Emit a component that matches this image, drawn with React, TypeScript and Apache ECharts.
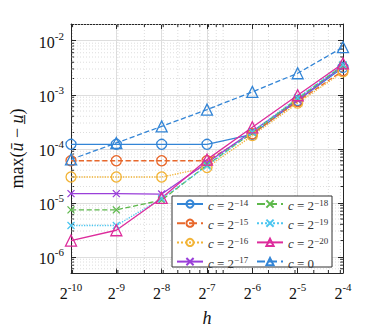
import React, { useEffect, useRef } from 'react';
import * as echarts from 'echarts';

// h = 2^hExp
const hExp = [-10, -9, -8, -7, -6, -5, -4];

const seriesNames = ['c14', 'c15', 'c16', 'c17', 'c18', 'c19', 'c20', 'c0'];
const seriesExps = ['−14', '−15', '−16', '−17', '−18', '−19', '−20', ''];

const c14 = [1.21e-4, 1.21e-4, 1.21e-4, 1.21e-4, 1.85e-4, 7.8e-4, 3.2e-3];
const c15 = [6.0e-5, 6.0e-5, 6.0e-5, 6.0e-5, 1.9e-4, 7.5e-4, 2.8e-3];
const c16 = [3.0e-5, 3.0e-5, 3.0e-5, 4.5e-5, 1.75e-4, 7.0e-4, 2.65e-3];
const c17 = [1.48e-5, 1.48e-5, 1.45e-5, 5.5e-5, 2.1e-4, 8.0e-4, 3.4e-3];
const c18 = [7.4e-6, 7.4e-6, 1.12e-5, 5.0e-5, 2.0e-4, 8.5e-4, 3.5e-3];
const c19 = [3.8e-6, 3.8e-6, 1.2e-5, 4.8e-5, 2.05e-4, 8.8e-4, 3.6e-3];
const c20 = [2.0e-6, 3.1e-6, 1.23e-5, 6.3e-5, 2.5e-4, 9.8e-4, 3.8e-3];
const c0 = [6.35e-5, 1.28e-4, 2.6e-4, 5.3e-4, 1.13e-3, 2.5e-3, 7.6e-3];

const seriesValues = [c14, c15, c16, c17, c18, c19, c20, c0];
const seriesColors = ['#3385D6', '#E8682C', '#F2B437', '#9A3FD9', '#5DB84B', '#4CC6F0', '#DD2C9C', '#3385D6'];
const seriesDash = ['solid', 'dashed', 'dotted', 'solid', 'dashed', 'dotted', 'solid', 'dashed'];
const seriesMarker = ['circle', 'circle', 'circle', 'x', 'x', 'x', 'triangle', 'triangle'];

const X_MIN = -10;
const X_MAX = -4;
const Y_MIN = -6.3;
const Y_MAX = -1.69;

const FONT = 'Liberation Serif';
const AXIS_COLOR = '#262626';

function buildMinor() {
  const out: number[][] = [];
  for (let n = -7; n <= -2; n++) {
    for (let k = 2; k <= 9; k++) {
      const v = Math.log10(k * Math.pow(10, n));
      if (v > Y_MIN && v < Y_MAX) out.push([X_MIN, v, 0]);
    }
  }
  for (let n = -4; n <= -2; n++) {
    for (let k = 1; k <= 9; k++) {
      const v = Math.log2(k * Math.pow(10, n));
      if (v > X_MIN + 0.01 && v < X_MAX - 0.01) out.push([v, Y_MIN, 1]);
    }
  }
  return out;
}

export default function App() {
  const ref = useRef<HTMLDivElement>(null);
  useEffect(() => {
    if (!ref.current) return;
    const chart = echarts.init(ref.current, null, { renderer: 'svg' });

    const symbolFor = (m: string) =>
      m === 'x' ? 'path://M0 0L10 10M10 0L0 10' : m;
    const sizeFor = (m: string) => (m === 'circle' ? 10 : m === 'triangle' ? 11 : 7);

    const lineSeries = seriesNames.map((name, i) => ({
      name,
      type: 'line',
      z: 2,
      data: hExp.map((e, j) => [e, Math.log10(seriesValues[i][j])]),
      symbol: symbolFor(seriesMarker[i]),
      symbolSize: sizeFor(seriesMarker[i]),
      symbolKeepAspect: true,
      showAllSymbol: true,
      color: seriesColors[i],
      lineStyle: { color: seriesColors[i], width: 1.3, type: seriesDash[i] },
      itemStyle: { color: 'rgba(0,0,0,0)', borderColor: seriesColors[i], borderWidth: 1.3 },
    }));

    const minorSeries = {
      type: 'custom',
      z: 1,
      silent: true,
      encode: { x: 0, y: 1 },
      data: buildMinor(),
      renderItem: (params: any, api: any) => {
        const cs = params.coordSys;
        const kind = api.value(2);
        if (kind === 0) {
          const y = api.coord([X_MIN, api.value(1)])[1];
          return {
            type: 'group',
            children: [
              { type: 'line', shape: { x1: cs.x, y1: y, x2: cs.x + cs.width, y2: y }, style: { stroke: '#d4d4d4', lineWidth: 0.8, lineDash: [1, 2] } },
              { type: 'line', shape: { x1: cs.x, y1: y, x2: cs.x + 3, y2: y }, style: { stroke: AXIS_COLOR, lineWidth: 1 } },
              { type: 'line', shape: { x1: cs.x + cs.width - 3, y1: y, x2: cs.x + cs.width, y2: y }, style: { stroke: AXIS_COLOR, lineWidth: 1 } },
            ],
          };
        }
        const x = api.coord([api.value(0), Y_MIN])[0];
        return {
          type: 'group',
          children: [
            { type: 'line', shape: { x1: x, y1: cs.y, x2: x, y2: cs.y + cs.height }, style: { stroke: '#d4d4d4', lineWidth: 0.8, lineDash: [1, 2] } },
            { type: 'line', shape: { x1: x, y1: cs.y + cs.height - 3, x2: x, y2: cs.y + cs.height }, style: { stroke: AXIS_COLOR, lineWidth: 1 } },
            { type: 'line', shape: { x1: x, y1: cs.y, x2: x, y2: cs.y + 3 }, style: { stroke: AXIS_COLOR, lineWidth: 1 } },
          ],
        };
      },
    };

    const supRich = {
      b: { fontFamily: FONT, fontSize: 16, color: '#111', lineHeight: 20, verticalAlign: 'bottom' },
      s: { fontFamily: FONT, fontSize: 11, color: '#111', lineHeight: 20, verticalAlign: 'top' },
    };

    const legendRich = {
      i: { fontFamily: FONT, fontStyle: 'italic', fontSize: 13, color: '#333', lineHeight: 14, verticalAlign: 'bottom' },
      t: { fontFamily: FONT, fontSize: 13, color: '#333', lineHeight: 14, verticalAlign: 'bottom' },
      s: { fontFamily: FONT, fontSize: 9, color: '#333', lineHeight: 14, verticalAlign: 'top' },
    };
    const legendFmt = (name: string) => {
      const i = seriesNames.indexOf(name);
      if (seriesExps[i] === '') return '{i|c}{t| = 0}';
      return `{i|c}{t| = 2}{s|${seriesExps[i]}}`;
    };
    const legendCommon = {
      orient: 'vertical',
      z: 5,
      padding: 0,
      itemWidth: 26,
      itemHeight: 9,
      itemGap: 5.2,
      formatter: legendFmt,
      textStyle: { fontFamily: FONT, fontSize: 13, color: '#333', lineHeight: 14, height: 12, rich: legendRich },
    };

    const axisCommon = {
      type: 'value',
      axisLine: { show: true, onZero: false, lineStyle: { color: AXIS_COLOR, width: 1 } },
      axisTick: { show: true, inside: true, length: 5, lineStyle: { color: AXIS_COLOR, width: 1 } },
    };

    chart.setOption({
      animation: false,
      backgroundColor: '#ffffff',
      textStyle: { fontFamily: FONT },
      grid: { left: 64, right: 36, top: 24, bottom: 51, containLabel: false },
      xAxis: [
        {
          ...axisCommon,
          position: 'bottom',
          min: X_MIN,
          max: X_MAX,
          interval: 1,
          name: 'h',
          nameLocation: 'middle',
          nameGap: 36,
          nameTextStyle: { fontFamily: FONT, fontStyle: 'italic', fontSize: 18, color: '#111' },
          splitLine: { show: true, lineStyle: { color: '#dedede', width: 1 } },
          axisLabel: {
            margin: 8,
            fontFamily: FONT,
            formatter: (v: number) => `{b|2}{s|${Math.round(v)}}`,
            rich: supRich,
          },
        },
        {
          ...axisCommon,
          position: 'top',
          min: X_MIN,
          max: X_MAX,
          interval: 1,
          splitLine: { show: false },
          axisLabel: { show: false },
        },
      ],
      yAxis: [
        {
          ...axisCommon,
          position: 'left',
          min: Y_MIN,
          max: Y_MAX,
          minInterval: 1,
          maxInterval: 1,
          name: '{n|max(}{u|ū}{n| − }{u|u̲}{n|)}',
          nameLocation: 'middle',
          nameGap: 45,
          nameTextStyle: {
            fontFamily: FONT,
            fontSize: 18,
            color: '#111',
            rich: {
              n: { fontFamily: FONT, fontSize: 18, color: '#111' },
              u: { fontFamily: FONT, fontStyle: 'italic', fontSize: 18, color: '#111' },
            },
          },
          splitLine: { show: true, lineStyle: { color: '#dedede', width: 1 } },
          axisLabel: {
            margin: 7,
            fontFamily: FONT,
            formatter: (v: number) =>
              Math.abs(v - Math.round(v)) < 1e-6 ? `{b|10}{s|${Math.round(v)}}` : '',
            rich: supRich,
          },
        },
        {
          ...axisCommon,
          position: 'right',
          min: Y_MIN,
          max: Y_MAX,
          minInterval: 1,
          maxInterval: 1,
          splitLine: { show: false },
          axisLabel: { show: false },
        },
      ],
      legend: [
        { ...legendCommon, left: 176, top: 198, data: seriesNames.slice(0, 4) },
        { ...legendCommon, left: 256, top: 198, data: seriesNames.slice(4, 8) },
      ],
      graphic: {
        elements: [
          {
            type: 'rect',
            z: 3,
            shape: { x: 172, y: 196, width: 160, height: 71 },
            style: { fill: '#ffffff', stroke: '#333333', lineWidth: 1 },
          },
        ],
      },
      series: [minorSeries, ...lineSeries],
    });

    return () => chart.dispose();
  }, []);

  return <div ref={ref} style={{ width: 379, height: 332, position: 'absolute', left: 0, top: 0 }} />;
}
